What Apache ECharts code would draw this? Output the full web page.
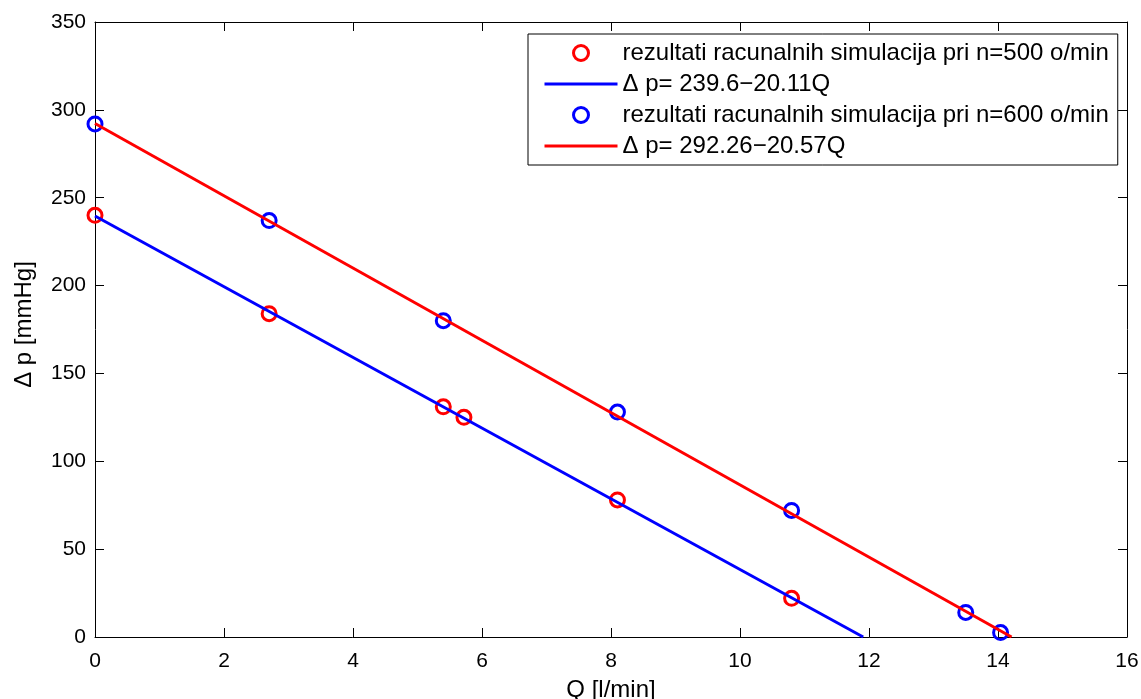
<!DOCTYPE html>
<html>
<head>
<meta charset="utf-8">
<script src="https://cdn.jsdelivr.net/npm/echarts@6/dist/echarts.min.js"></script>
<style>
html,body{margin:0;padding:0;background:#fff;}
#c{width:1141px;height:699px;}
</style>
</head>
<body>
<div id="c"></div>
<script>
// Data
var sim500 = [[0, 240], [2.7, 184], [5.4, 131], [5.72, 125], [8.1, 78], [10.8, 22]];
var fit500 = [[0, 239.6], [11.91, 0]];
var sim600 = [[0, 292], [2.7, 237], [5.4, 180], [8.1, 128], [10.8, 72], [13.5, 14], [14.04, 2.5]];
var fit600 = [[0, 292.26], [14.21, 0]];
var seriesNames = [
  'rezultati racunalnih simulacija pri n=500 o/min',
  '\u0394 p= 239.6\u221220.11Q',
  'rezultati racunalnih simulacija pri n=600 o/min',
  '\u0394 p= 292.26\u221220.57Q'
];
var xName = 'Q [l/min]';
var yName = '\u0394 p [mmHg]';

var FONT = 'Liberation Sans, Arial, Helvetica, sans-serif';
var chart = echarts.init(document.getElementById('c'), null, {renderer: 'canvas'});

function boxAxis(base) {
  return Object.assign({
    axisLine: {show: true, onZero: false, lineStyle: {color: '#000', width: 1}},
    axisTick: {show: true, inside: true, length: 9, lineStyle: {color: '#000', width: 1}},
    splitLine: {show: false}
  }, base);
}

var option = {
  animation: false,
  backgroundColor: '#fff',
  grid: {left: 95, right: 14, top: 22, bottom: 62, containLabel: false, outerBoundsMode: 'none'},
  xAxis: [
    boxAxis({type: 'value', position: 'bottom', min: 0, max: 16, interval: 2,
      name: xName, nameLocation: 'middle', nameGap: 41,
      nameTextStyle: {color: '#000', fontSize: 24, fontFamily: FONT},
      axisLabel: {color: '#000', fontSize: 21, fontFamily: FONT, margin: 14}}),
    boxAxis({type: 'value', position: 'top', min: 0, max: 16, interval: 2,
      axisLabel: {show: false}})
  ],
  yAxis: [
    boxAxis({type: 'value', position: 'left', min: 0, max: 350, interval: 50,
      name: yName, nameLocation: 'middle', nameGap: 59, nameRotate: 90,
      nameTextStyle: {color: '#000', fontSize: 24, fontFamily: FONT, padding: [0, 0, 0, 10]},
      axisLabel: {color: '#000', fontSize: 21, fontFamily: FONT, margin: 9}}),
    boxAxis({type: 'value', position: 'right', min: 0, max: 350, interval: 50,
      axisLabel: {show: false}})
  ],
  legend: {
    orient: 'vertical',
    left: 528, top: 34,
    padding: [7, 9, 7, 15],
    itemWidth: 73, itemHeight: 15, itemGap: 7,
    backgroundColor: '#fff',
    borderColor: '#000', borderWidth: 1,
    selectedMode: false,
    textStyle: {color: '#000', fontSize: 24, lineHeight: 24, fontFamily: FONT},
    data: [
      {name: seriesNames[0], itemStyle: {opacity: 1, borderWidth: 3}},
      {name: seriesNames[1], itemStyle: {opacity: 0}, lineStyle: {opacity: 1, width: 3}},
      {name: seriesNames[2], itemStyle: {opacity: 1, borderWidth: 3}},
      {name: seriesNames[3], itemStyle: {opacity: 0}, lineStyle: {opacity: 1, width: 3}}
    ]
  },
  series: [
    {name: seriesNames[0], type: 'scatter', data: sim500, symbol: 'circle', symbolSize: 14,
      itemStyle: {color: 'rgba(255,255,255,0)', borderColor: '#ff0000', borderWidth: 3, opacity: 1}},
    {name: seriesNames[1], type: 'line', data: fit500, symbol: 'none', showSymbol: false,
      lineStyle: {color: '#0000ff', width: 3}, itemStyle: {color: '#0000ff'}},
    {name: seriesNames[2], type: 'scatter', data: sim600, symbol: 'circle', symbolSize: 14,
      itemStyle: {color: 'rgba(255,255,255,0)', borderColor: '#0000ff', borderWidth: 3, opacity: 1}},
    {name: seriesNames[3], type: 'line', data: fit600, symbol: 'none', showSymbol: false,
      lineStyle: {color: '#ff0000', width: 3}, itemStyle: {color: '#ff0000'}}
  ]
};
chart.setOption(option);
</script>
</body>
</html>
